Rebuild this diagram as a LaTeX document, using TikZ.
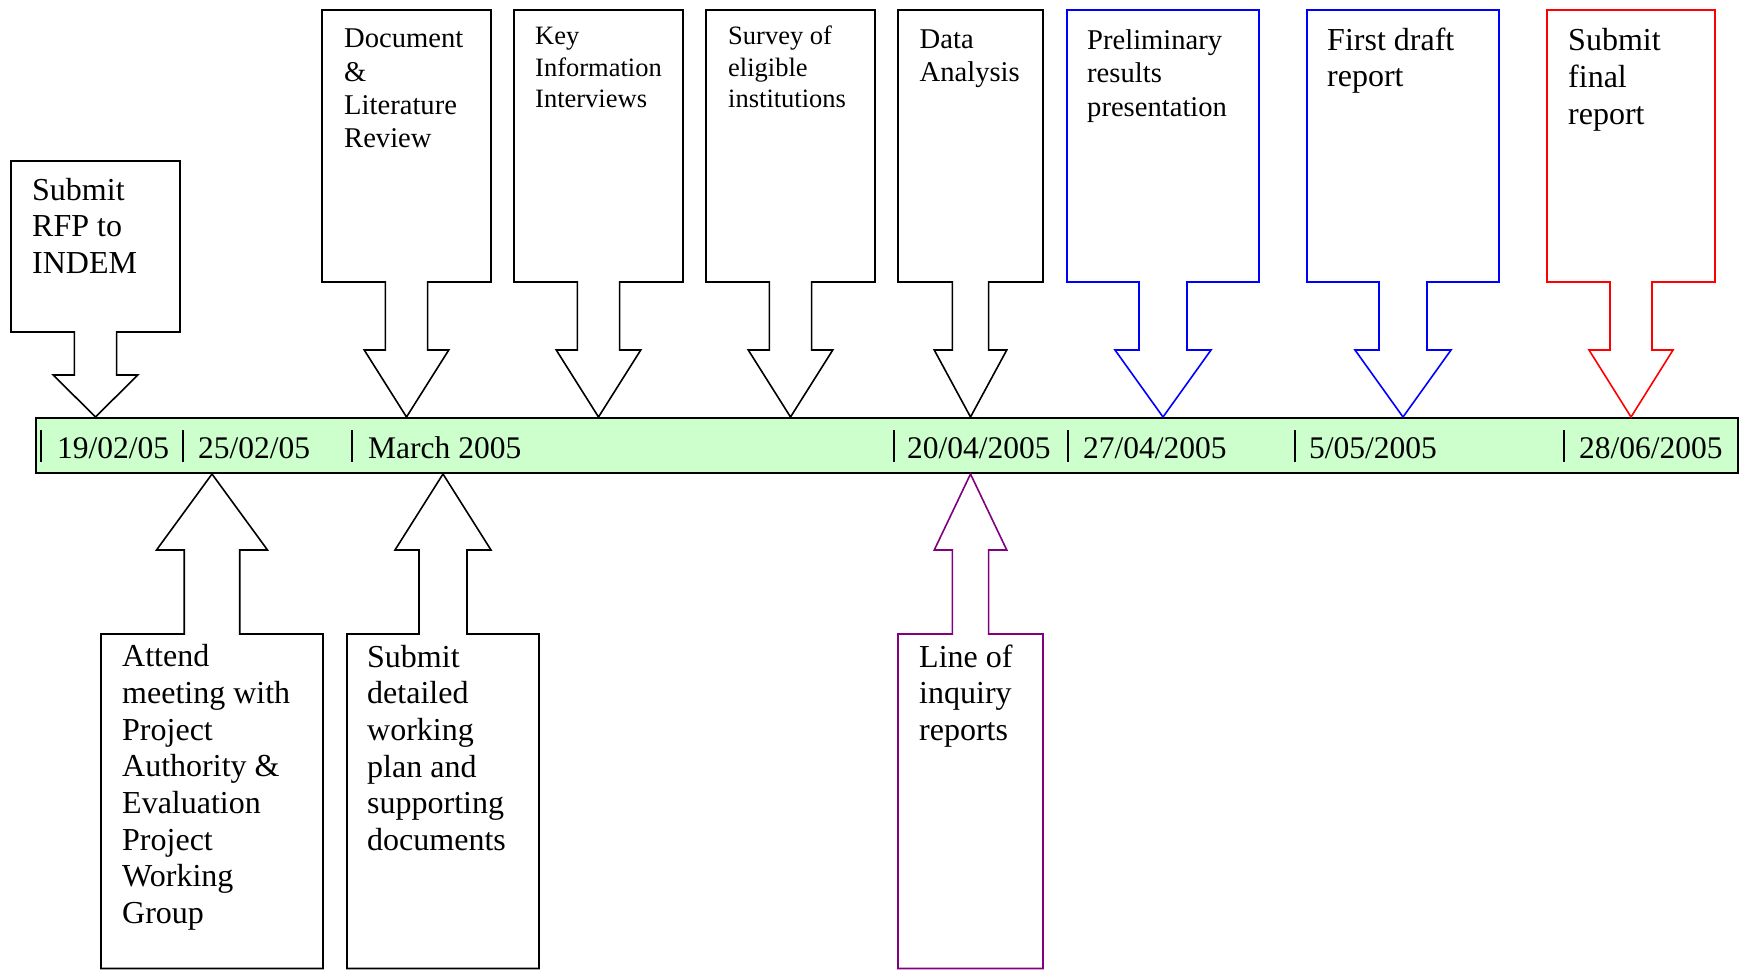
\documentclass[tikz,border=0pt]{standalone}
\usepackage{fontspec}
\setmainfont{Liberation Serif}
\usepackage{tikz}

\definecolor{barfill}{HTML}{CCFFCC}
\definecolor{purp}{HTML}{800080}

% box with a block arrow: colour, centre x, half width, box end, box base, shaft end, bar anchor
\newcommand{\drawcall}[7]{%
    \draw[call, draw=#1] ({#2-#3},#4) -- ({#2+#3},#4) -- ({#2+#3},#5) -- ({#2+#3/4},#5)
        -- ({#2+#3/4},#6) -- ({#2+#3/2},#6) -- (#2,0 |- tl.#7) -- ({#2-#3/2},#6)
        -- ({#2-#3/4},#6) -- ({#2-#3/4},#5) -- ({#2-#3},#5) -- cycle;}

\begin{document}
\begin{tikzpicture}
    [
    x = 1pt, y = -1pt,
    call/.style    = {fill=white, line width=1.6pt, line join=miter},
    bar/.style     = {draw, fill=barfill, line width=2pt, inner sep=0pt, anchor=north west,
                      minimum width=1702pt, minimum height=55pt},
    tick/.style    = {line width=2pt},
    lab/.style     = {anchor=base west, inner sep=0pt, align=left,
                      font=\fontsize{32}{36.7}\selectfont},
    labmid/.style  = {lab, font=\fontsize{28.6}{33.3}\selectfont},
    labsmall/.style= {lab, font=\fontsize{26.5}{31.5}\selectfont},
    date/.style    = {anchor=base west, inner sep=0pt, font=\fontsize{31.5}{36}\selectfont}
    ]
    \useasboundingbox (0,0) rectangle (1739,970);
    \fill[white] (0,0) rectangle (1739,970);

    \node [bar] (tl) at (35,417) {};
    \foreach \x in {41,183,352,894,1068,1295,1564}
        \draw[tick] (\x,430) -- (\x,462);
    \foreach \x/\t/\n in {57/19\slash 02\slash 05/d1, 198/25\slash 02\slash 05/d2,
                          368/March 2005/d3, 907/20\slash 04\slash 2005/d4,
                          1083/27\slash 04\slash 2005/d5, 1309/5\slash 05\slash 2005/d6,
                          1579/28\slash 06\slash 2005/d7}
        \node [date] (\n) at (\x,458) {\t};

    \drawcall{black}{95.5}{84.5}{161}{332}{375}{north}
    \drawcall{black}{406.5}{84.5}{10}{282}{350}{north}
    \drawcall{black}{598.5}{84.5}{10}{282}{350}{north}
    \drawcall{black}{790.5}{84.5}{10}{282}{350}{north}
    \drawcall{black}{970.5}{72.5}{10}{282}{350}{north}
    \drawcall{blue}{1163}{96}{10}{282}{350}{north}
    \drawcall{blue}{1403}{96}{10}{282}{350}{north}
    \drawcall{red}{1631}{84}{10}{282}{350}{north}
    \drawcall{black}{212}{111}{968.5}{634}{550}{south}
    \drawcall{black}{443}{96}{968.5}{634}{550}{south}
    \drawcall{purp}{970.5}{72.5}{968.5}{634}{550}{south}

    % multi-line labels sit on the baseline of their last line
    \node [lab] (rfp) at (32,273.4) {Submit\\RFP to\\INDEM};
    \node [labmid] (doc) at (344,147.6) {Document\\\&\\Literature\\Review};
    \node [labsmall] (kii) at (535,107.5) {Key\\Information\\Interviews};
    \node [labsmall] (survey) at (728,107.5) {Survey of\\eligible\\institutions};
    \node [labmid] (data) at (919.5,81.6) {Data\\Analysis};
    \node [labmid] (prelim) at (1087,116.1) {Preliminary\\results\\presentation};
    \node [lab] (draft) at (1327,86.7) {First draft\\report};
    \node [lab] (final) at (1568,124) {Submit\\final\\report};
    \node [lab] (meet) at (122,923.5) {Attend\\meeting with\\Project\\Authority \&\\Evaluation\\Project\\Working\\Group};
    \node [lab] (plan) at (367,850.5) {Submit\\detailed\\working\\plan and\\supporting\\documents};
    \node [lab] (inquiry) at (919,740.4) {Line of\\inquiry\\reports};
\end{tikzpicture}
\end{document}
